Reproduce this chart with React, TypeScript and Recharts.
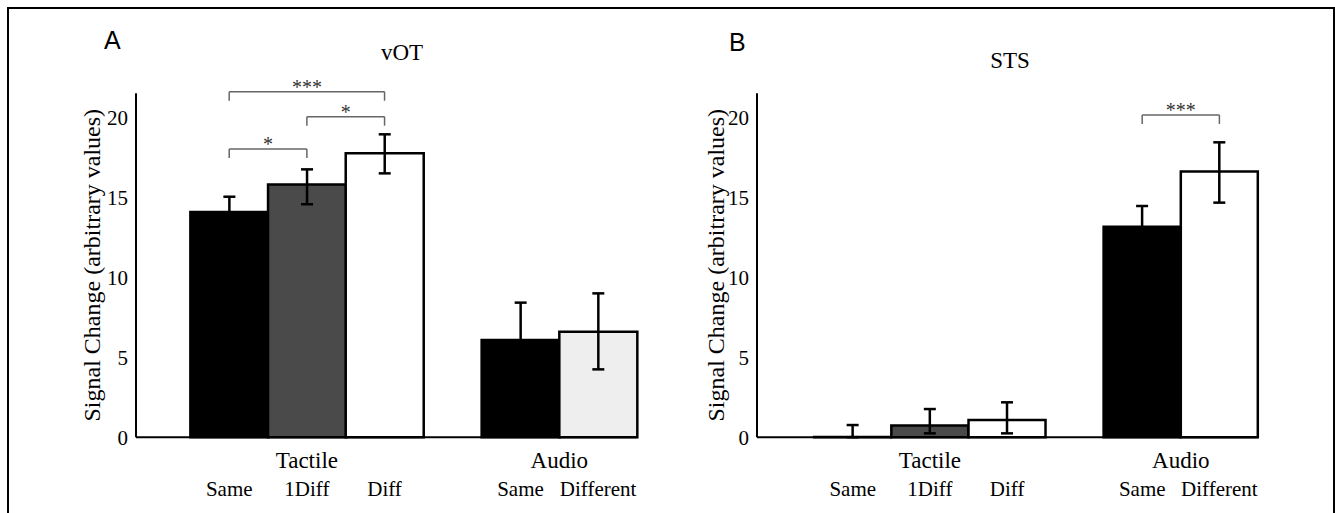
import { BarChart, Bar, XAxis, YAxis, ErrorBar, Cell, ReferenceLine, Label } from "recharts";

const groupNames = ["Tactile", "Audio"];
const tactileConds = ["Same", "1Diff", "Diff"];
const audioConds = ["Same", "Different"];
const yTicks = [0, 5, 10, 15, 20];

// vOT panel
const votValues = [14.08, 15.8, 17.74, 6.08, 6.59];
const votErrLow = [0.95, 1.24, 1.25, 2.33, 2.35];
const votErrHigh = [0.95, 0.94, 1.19, 2.33, 2.4];
const votColors = ["#000000", "#4a4a4a", "#ffffff", "#000000", "#eeeeee"];
const votBrackets = [
  { from: 0, to: 2, y: 21.59, label: "***" },
  { from: 1, to: 2, y: 20.03, label: "*" },
  { from: 0, to: 1, y: 18.01, label: "*" },
];

// STS panel
const stsValues = [0.01, 0.73, 1.07, 13.15, 16.6];
const stsErrLow = [0.01, 0.49, 0.83, 1.3, 1.94];
const stsErrHigh = [0.75, 1.03, 1.11, 1.3, 1.83];
const stsColors = ["#000000", "#4a4a4a", "#ffffff", "#000000", "#ffffff"];
const stsBrackets = [{ from: 3, to: 4, y: 20.14, label: "***" }];

const serif = "'Liberation Serif', 'Times New Roman', serif";
const sans = "'Liberation Sans', Arial, sans-serif";
const condLabels = [...tactileConds, ...audioConds];

type Bracket = { from: number; to: number; y: number; label: string };

type PanelProps = {
  left: number;
  width: number;
  marginLeft: number;
  marginRight: number;
  labelOffset: number;
  leftGap: number;
  midGap: number;
  values: number[];
  errLow: number[];
  errHigh: number[];
  colors: string[];
  brackets: Bracket[];
};

function Panel(p: PanelProps) {
  // bar centres on a numeric axis, one unit per bar
  const positions = condLabels.map((_, i) =>
    i < tactileConds.length
      ? p.leftGap + i + 0.5
      : p.leftGap + tactileConds.length + p.midGap + (i - tactileConds.length) + 0.5
  );
  const total = p.leftGap + tactileConds.length + p.midGap + audioConds.length;
  const groupCentres = [positions[1], (positions[3] + positions[4]) / 2];
  const data = p.values.map((v, i) => ({
    pos: positions[i],
    value: v,
    err: [p.errLow[i], p.errHigh[i]],
  }));
  const drop = 0.56;

  return (
    <div style={{ position: "absolute", left: p.left, top: 0 }}>
      <BarChart
        width={p.width}
        height={513}
        data={data}
        barCategoryGap={0}
        barGap={0}
        margin={{ top: 93.2, right: p.marginRight, bottom: 15.8, left: p.marginLeft }}
      >
        <XAxis
          xAxisId="grp"
          type="number"
          dataKey="pos"
          domain={[0, total]}
          ticks={groupCentres}
          interval={0}
          tickFormatter={(v) => groupNames[groupCentres.indexOf(v)] ?? ""}
          tickLine={false}
          tickSize={0}
          tickMargin={14}
          height={30}
          axisLine={{ stroke: "#000", strokeWidth: 2 }}
          tick={{ fill: "#000", fontSize: 23, fontFamily: serif }}
        />
        <XAxis
          xAxisId="sub"
          type="number"
          dataKey="pos"
          domain={[0, total]}
          ticks={positions}
          interval={0}
          tickFormatter={(v) => condLabels[positions.indexOf(v)] ?? ""}
          tickLine={false}
          tickSize={0}
          tickMargin={14}
          height={30}
          axisLine={false}
          tick={{ fill: "#000", fontSize: 21, fontFamily: serif }}
        />
        <YAxis
          type="number"
          domain={[0, 21.5]}
          ticks={yTicks}
          interval={0}
          width={60}
          tickLine={false}
          axisLine={{ stroke: "#000", strokeWidth: 2 }}
          tick={{ fill: "#000", fontSize: 21, fontFamily: serif }}
        >
          <Label
            value="Signal Change (arbitrary values)"
            angle={-90}
            position="insideLeft"
            offset={p.labelOffset}
            style={{ textAnchor: "middle", fontSize: 24, fill: "#000", fontFamily: serif }}
          />
        </YAxis>
        <Bar xAxisId="sub" dataKey="value" stroke="#000" strokeWidth={2.5} isAnimationActive={false}>
          {data.map((_, i) => (
            <Cell key={i} fill={p.colors[i]} />
          ))}
          <ErrorBar dataKey="err" direction="y" width={6} stroke="#000" strokeWidth={2.5} />
        </Bar>
        {p.brackets.map((b, i) => {
          const x1 = positions[b.from];
          const x2 = positions[b.to];
          return [
            <ReferenceLine
              key={`l${i}`}
              xAxisId="sub"
              segment={[{ x: x1, y: b.y - drop }, { x: x1, y: b.y }]}
              stroke="#666"
              strokeWidth={1.5}
              ifOverflow="visible"
            />,
            <ReferenceLine
              key={`h${i}`}
              xAxisId="sub"
              segment={[{ x: x1, y: b.y }, { x: x2, y: b.y }]}
              stroke="#666"
              strokeWidth={1.5}
              ifOverflow="visible"
              label={{ value: b.label, position: "top", offset: -2, fill: "#333", fontSize: 20, fontFamily: serif }}
            />,
            <ReferenceLine
              key={`r${i}`}
              xAxisId="sub"
              segment={[{ x: x2, y: b.y - drop }, { x: x2, y: b.y }]}
              stroke="#666"
              strokeWidth={1.5}
              ifOverflow="visible"
            />,
          ];
        })}
      </BarChart>
    </div>
  );
}

const text = (extra: React.CSSProperties): React.CSSProperties => ({
  position: "absolute",
  lineHeight: 1,
  color: "#000",
  whiteSpace: "nowrap",
  ...extra,
});

export default function App() {
  return (
    <div style={{ position: "absolute", left: 0, top: 0, width: 1335, height: 513, background: "#fff", overflow: "hidden" }}>
      <div
        style={{
          position: "absolute",
          left: 7,
          top: 7,
          width: 1328,
          height: 506,
          boxSizing: "border-box",
          borderStyle: "solid",
          borderColor: "#000",
          borderWidth: "2px 2px 0 2px",
        }}
      />
      <Panel
        left={0}
        width={665}
        marginLeft={76}
        marginRight={28}
        labelOffset={15}
        leftGap={0.7}
        midGap={0.75}
        values={votValues}
        errLow={votErrLow}
        errHigh={votErrHigh}
        colors={votColors}
        brackets={votBrackets}
      />
      <Panel
        left={665}
        width={670}
        marginLeft={32}
        marginRight={77}
        labelOffset={18}
        leftGap={0.74}
        midGap={0.75}
        values={stsValues}
        errLow={stsErrLow}
        errHigh={stsErrHigh}
        colors={stsColors}
        brackets={stsBrackets}
      />
      <div style={text({ left: 104, top: 28, fontSize: 25, fontFamily: sans })}>A</div>
      <div style={text({ left: 729, top: 30, fontSize: 25, fontFamily: sans })}>B</div>
      <div style={text({ left: 302, top: 41, width: 200, textAlign: "center", fontSize: 23, fontFamily: serif })}>vOT</div>
      <div style={text({ left: 910, top: 49, width: 200, textAlign: "center", fontSize: 23, fontFamily: serif })}>STS</div>
    </div>
  );
}
